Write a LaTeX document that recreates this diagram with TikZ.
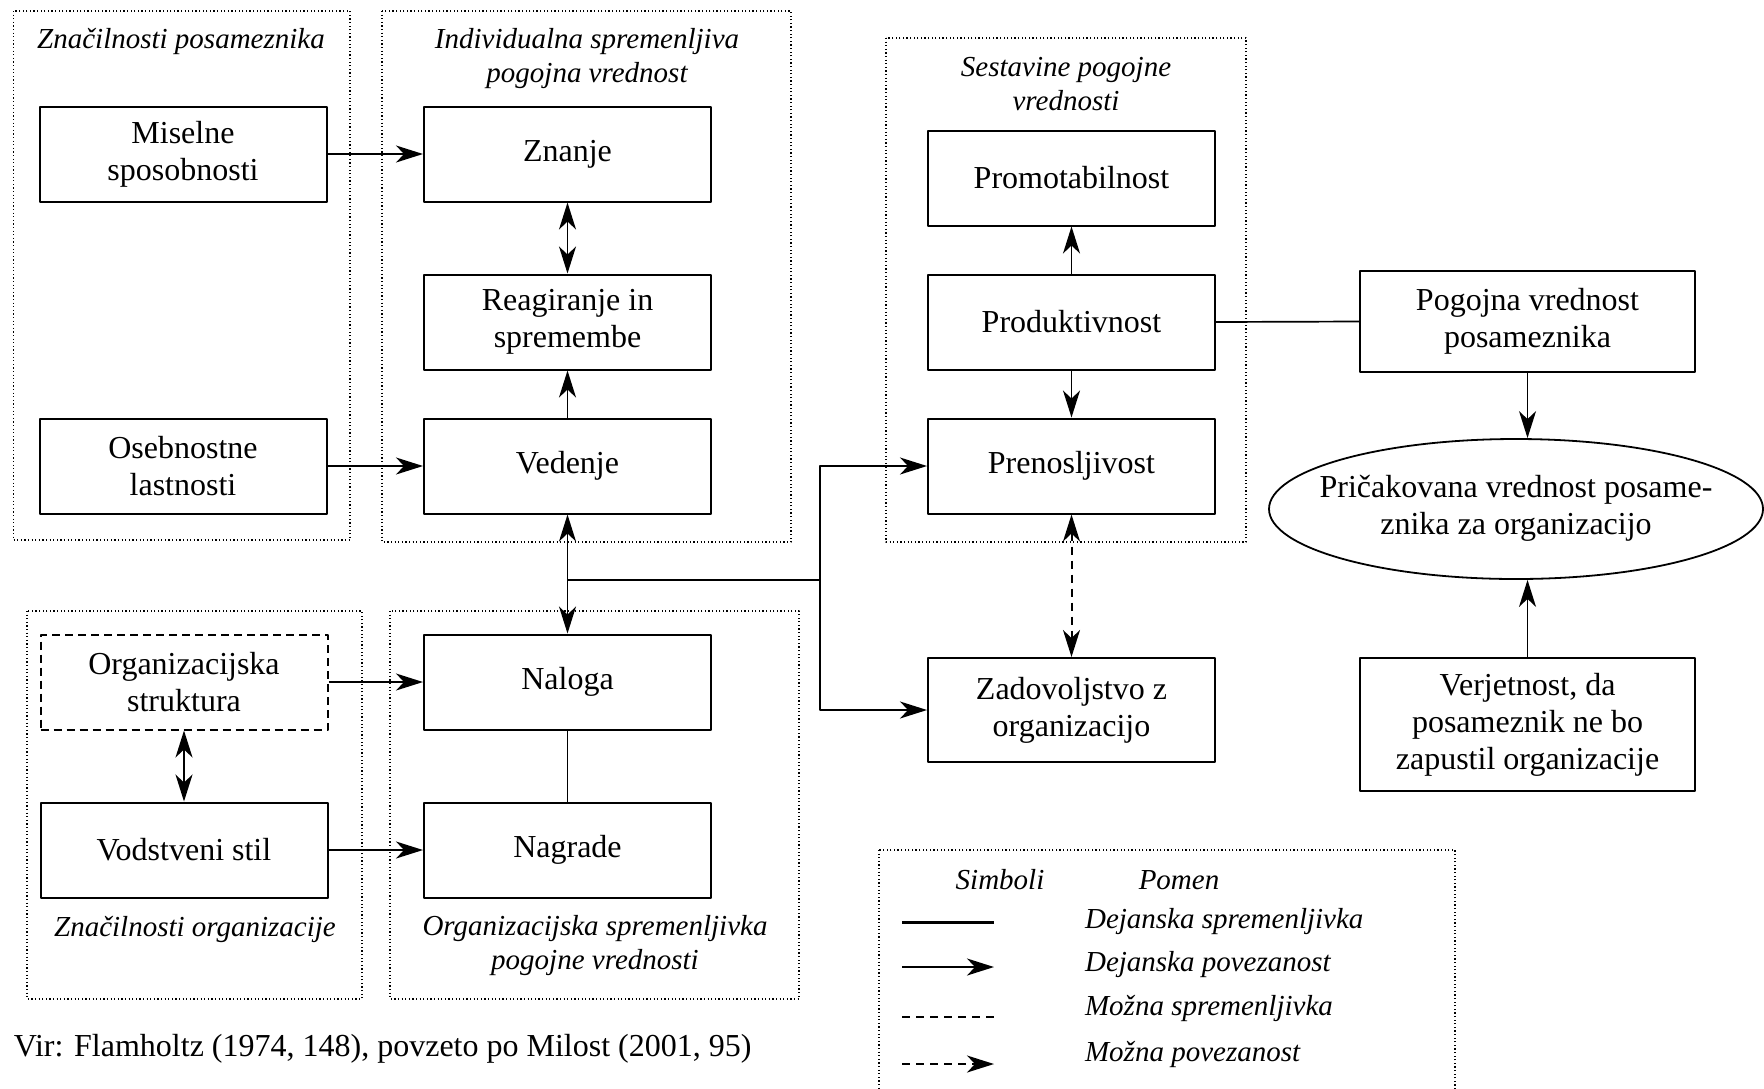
\documentclass[tikz,border=0pt]{standalone}
\usepackage{fontspec}
\setmainfont{Liberation Serif}
\usetikzlibrary{arrows.meta,shapes.geometric}

\begin{document}
\begin{tikzpicture}[x=0.5pt, y=-0.5pt, >={Stealth[length=13.5pt,width=8.5pt,inset=4pt]},
	line join=round, font=\fontsize{16}{18.5}\selectfont,
	box/.style={draw, line width=1pt, minimum width=143.5pt, minimum height=47.5pt, align=center, inner sep=2pt},
	grp/.style={draw, line width=0.6pt, dash pattern=on 0.6pt off 1.2pt},
	ttl/.style={font=\fontsize{14.5}{17}\selectfont\itshape, align=center},
	conn/.style={line width=0.85pt}]
	\useasboundingbox (0,0) rectangle (1764,1088);
	
	% OKVIRJI SKUPIN
	\draw[grp] (13.5,11) rectangle (350,540);
	\draw[grp] (382,11) rectangle (791,542);
	\draw[grp] (886,38) rectangle (1246,542);
	\draw[grp] (27,611) rectangle (362,999);
	\draw[grp] (390,611) rectangle (799,999);
	\draw[grp] (879,850) rectangle (1455,1110);
	
	% NASLOVI SKUPIN
	\node[ttl] (t_posam) at (181,42) {Značilnosti posameznika};
	\node[ttl] (t_indiv) at (587,59) {Individualna spremenljiva\\pogojna vrednost};
	\node[ttl] (t_sest) at (1066,84) {Sestavine pogojne\\vrednosti};
	\node[ttl] (t_org) at (195,929) {Značilnosti organizacije};
	\node[ttl] (t_orgspr) at (595,946) {Organizacijska spremenljivka\\pogojne vrednosti};
	
	% POSAMEZNIK
	\node[box] (misel) at (183,154) {Miselne\\sposobnosti};
	\node[box] (oseb) at (183,466) {Osebnostne\\lastnosti};
	\node[box] (znanje) at (567.5,154) {Znanje};
	\node[box] (reag) at (567.5,322) {Reagiranje in\\spremembe};
	\node[box] (vedenje) at (567.5,466) {Vedenje};
	
	% ORGANIZACIJA
	\node[box, dash pattern=on 4pt off 2.5pt] (orgstr) at (184,682) {Organizacijska\\struktura};
	\node[box] (vodstil) at (184,850) {Vodstveni stil};
	\node[box] (naloga) at (567.5,682) {Naloga};
	\node[box] (nagrade) at (567.5,850) {Nagrade};
	
	% SESTAVINE
	\node[box] (promo) at (1071.5,178) {Promotabilnost};
	\node[box] (produkt) at (1071.5,322) {Produktivnost};
	\node[box] (prenos) at (1071.5,466) {Prenosljivost};
	\node[box, minimum height=52pt] (zadov) at (1071.5,710) {Zadovoljstvo z\\organizacijo};
	
	% VREDNOST
	\node[box, minimum width=167.5pt, minimum height=50.5pt] (pogojna) at (1527.5,321.5) {Pogojna vrednost\\posameznika};
	\node[draw, ellipse, line width=0.9pt, minimum width=247pt, minimum height=70pt, inner sep=0pt] (pricak) at (1516,509)
		{\makebox[0pt]{\begin{tabular}{@{}c@{}}Pričakovana vrednost posame-\\znika za organizacijo\end{tabular}}};
	\node[box, minimum width=167.5pt, minimum height=66.5pt] (verjet) at (1527.5,724.5) {Verjetnost, da\\posameznik ne bo\\zapustil organizacije};
	
	% POVEZAVE
	\draw[conn, ->] (misel) -- (znanje);
	\draw[conn, ->] (oseb) -- (vedenje);
	\draw[conn, <->] (znanje) -- (reag);
	\draw[conn, ->] (vedenje) -- (reag);
	\draw[conn, <->] (vedenje) -- (naloga);
	\draw[conn] (naloga) -- (nagrade);
	\draw[conn, ->] (orgstr) -- (naloga);
	\draw[conn, ->] (vodstil) -- (nagrade);
	\draw[conn, <->] (orgstr) -- (vodstil);
	\coordinate (split) at (820,580);
	\draw[line width=1.1pt] (vedenje.south |- split) -- (split);
	\draw[conn, ->] (split) |- (prenos.west);
	\draw[conn, ->] (split) |- (zadov.west);
	\draw[conn, ->] (produkt) -- (promo);
	\draw[conn, ->] (produkt) -- (prenos);
	\draw[line width=1pt, <->, dash pattern=on 4pt off 3pt] (prenos) -- (zadov);
	\draw[conn] (produkt.east) -- (pogojna.west);
	\draw[conn, ->] (pogojna.south) -- (pogojna.south |- pricak.north);
	\draw[conn, ->] (verjet.north) -- (verjet.north |- pricak.south);
	
	% LEGENDA
	\node[ttl] (l_simb) at (1000,880) {Simboli};
	\node[ttl] (l_pomen) at (1179,880) {Pomen};
	\node[ttl, anchor=west] (l_dspr) at (1078,922) {Dejanska spremenljivka};
	\node[ttl, anchor=west] (l_dpov) at (1078,965) {Dejanska povezanost};
	\node[ttl, anchor=west] (l_mspr) at (1078,1008) {Možna spremenljivka};
	\node[ttl, anchor=west] (l_mpov) at (1078,1054) {Možna povezanost};
	\coordinate (s1a) at (902,922.5); \coordinate (s1b) at (994,922.5);
	\coordinate (s2a) at (902,967); \coordinate (s2b) at (994,967);
	\coordinate (s3a) at (902,1017); \coordinate (s3b) at (994,1017);
	\coordinate (s4a) at (902,1064); \coordinate (s4b) at (994,1064);
	\draw[line width=1.1pt] (s1a) -- (s1b);
	\draw[line width=1.1pt, ->] (s2a) -- (s2b);
	\draw[line width=1pt, dash pattern=on 4pt off 3pt] (s3a) -- (s3b);
	\draw[line width=1pt, dash pattern=on 4pt off 3pt, ->] (s4a) -- (s4b);
	
	% VIR
	\node[anchor=west, inner sep=0pt] (vir) at (13.5,1048.5) {Vir: Flamholtz (1974, 148), povzeto po Milost (2001, 95)};
\end{tikzpicture}
\end{document}
